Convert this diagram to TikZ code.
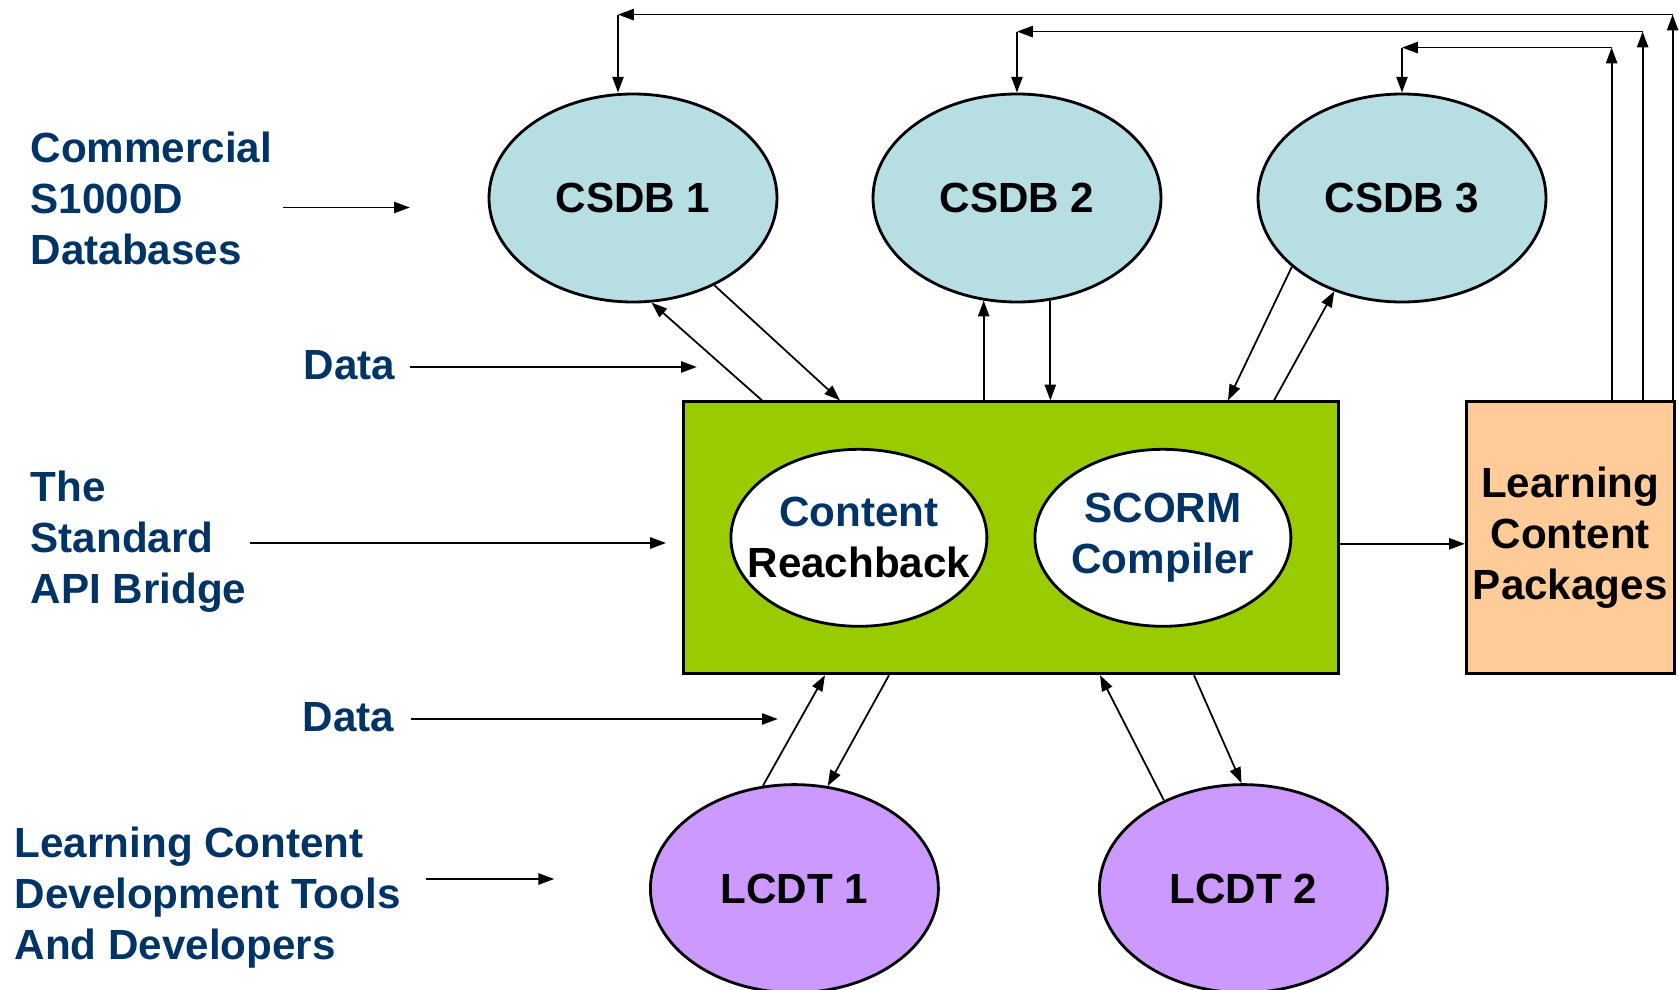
\documentclass[tikz,border=0pt]{standalone}
\usepackage{fontspec}
\setmainfont{Liberation Sans}
\usepackage{tikz}
\usetikzlibrary{shapes.geometric, arrows.meta, positioning, calc}
\definecolor{navyText}{RGB}{0, 51, 102}
\definecolor{dbFill}{RGB}{183, 223, 227}
\definecolor{bridgeFill}{RGB}{153, 204, 0}
\definecolor{packFill}{RGB}{255, 204, 153}
\definecolor{toolFill}{RGB}{204, 153, 255}
\tikzstyle{arrow} = [line width=0.5pt, -{Triangle[length=4.5pt, width=3.2pt]}]
\tikzstyle{basic} = [rectangle, draw=black, line width=0.8pt, text centered]
\tikzstyle{oval} = [ellipse, draw=black, line width=0.8pt, minimum width=28.8mm, minimum height=20.8mm, inner sep=0pt]
\tikzstyle{dbstyle} = [fill=dbFill]
\tikzstyle{toolstyle} = [fill=toolFill]
\tikzstyle{module} = [ellipse, draw=black, line width=0.8pt, fill=white, minimum width=25.6mm, minimum height=17.7mm, inner xsep=-4mm, inner ysep=0pt, align=center, text=navyText]
\tikzstyle{side} = [align=left, text=navyText, inner sep=0pt]

\begin{document}
\begin{tikzpicture}[font=\fontsize{12}{14.5}\selectfont\bfseries]
\useasboundingbox (0,0) rectangle (16.79,-9.90);

\node (csdb1) [oval, dbstyle] at (6.33,-1.98) {CSDB 1};
\node (csdb2) [oval, dbstyle, xshift=38.4mm] at(csdb1) {CSDB 2};
\node (csdb3) [oval, dbstyle, xshift=38.5mm] at(csdb2) {CSDB 3};

\node (bridge) [basic, fill=bridgeFill, minimum width=65.5mm, minimum height=27.2mm, anchor=north west, xshift=4.9mm, yshift=-9.7mm] at(csdb1.south) {};
\node (reach) [module, xshift=-15.2mm] at(bridge.center) {Content\\\textcolor{black}{Reachback}};
\node (scorm) [module, xshift=15.2mm] at(bridge.center) {SCORM\\Compiler};
\node (lcp) [basic, fill=packFill, inner xsep=0.3mm, minimum width=20.8mm, minimum height=27.2mm, align=center, anchor=west, xshift=12.5mm] at(bridge.east) {Learning\\Content\\Packages};

\node (lcdt1) [oval, toolstyle, anchor=north, xshift=-21.65mm, yshift=-10.8mm] at(bridge.south) {LCDT 1};
\node (lcdt2) [oval, toolstyle, anchor=north, xshift=23.25mm, yshift=-10.8mm] at(bridge.south) {LCDT 2};

\node (commercial) [side, anchor=west] at (0.30,-1.985) {Commercial\\S1000D\\Databases};
\node (data1) [side, anchor=west] at (3.03,-3.65) {Data};
\node (api) [side, anchor=west] at (0.30,-5.42) {The\\Standard\\API Bridge};
\node (data2) [side, anchor=west] at (3.02,-7.17) {Data};
\node (tools) [side, anchor=west] at (0.14,-8.98) {Learning Content\\Development Tools\\And Developers};

\draw [arrow] ($(commercial.east)+(1mm,-0.9mm)$) -- ++(12.7mm,0);
\draw [arrow] ($(data1.east)+(1.4mm,-0.2mm)$) -- ++(28.7mm,0);
\draw [arrow] ($(api.east)+(0.3mm,-0.1mm)$) -- ++(41.6mm,0);
\draw [arrow] ($(data2.east)+(1.6mm,-0.2mm)$) -- ++(36.7mm,0);
\draw [arrow] ($(tools.east)+(2.5mm,1.9mm)$) -- ++(12.8mm,0);
\draw [arrow] ($(bridge.east)+(0,-0.6mm)$) -- ($(lcp.west)+(0,-0.6mm)$);

% databases <-> bridge
\draw [arrow] ($(bridge.north west)+(8mm,0)$) -- (csdb1.-80);
\draw [arrow] (csdb1.-47) -- ($(bridge.north west)+(15.8mm,0)$);
\draw [arrow] (csdb2.-108 |- bridge.north) -- (csdb2.-108);
\draw [arrow] (csdb2.-72) -- (csdb2.-72 |- bridge.north);
\draw [arrow] (csdb3.-148) -- ($(bridge.north west)+(54.6mm,0)$);
\draw [arrow] ($(bridge.north west)+(59.2mm,0)$) -- (csdb3.-126);

% tools <-> bridge
\draw [arrow] (lcdt1.107) -- ($(bridge.south west)+(14.3mm,0)$);
\draw [arrow] ($(bridge.south west)+(20.7mm,0)$) -- (lcdt1.72);
\draw [arrow] (lcdt2.132) -- ($(bridge.south west)+(41.8mm,0)$);
\draw [arrow] ($(bridge.south west)+(51.2mm,0)$) -- (lcdt2.91);

% packages back to the databases
\coordinate (ret1) at ($(lcp.north east)+(-0.3mm,0)$);
\coordinate (ret2) at ($(lcp.north east)+(-3.3mm,0)$);
\coordinate (ret3) at ($(lcp.north east)+(-6.4mm,0)$);
\coordinate (drop1) at ($(csdb1.north)+(-1.5mm,7.8mm)$);
\coordinate (drop2) at ($(csdb2.north)+(0,6.1mm)$);
\coordinate (drop3) at ($(csdb3.north)+(0,4.5mm)$);
\draw [arrow] (ret1) -- (ret1 |- drop1);
\draw [arrow] (ret1 |- drop1) -- (drop1);
\draw [arrow] (drop1) -- (drop1 |- csdb1.north);
\draw [arrow] (ret2) -- (ret2 |- drop2);
\draw [arrow] (ret2 |- drop2) -- (drop2);
\draw [arrow] (drop2) -- (drop2 |- csdb2.north);
\draw [arrow] (ret3) -- (ret3 |- drop3);
\draw [arrow] (ret3 |- drop3) -- (drop3);
\draw [arrow] (drop3) -- (drop3 |- csdb3.north);

\end{tikzpicture}
\end{document}
